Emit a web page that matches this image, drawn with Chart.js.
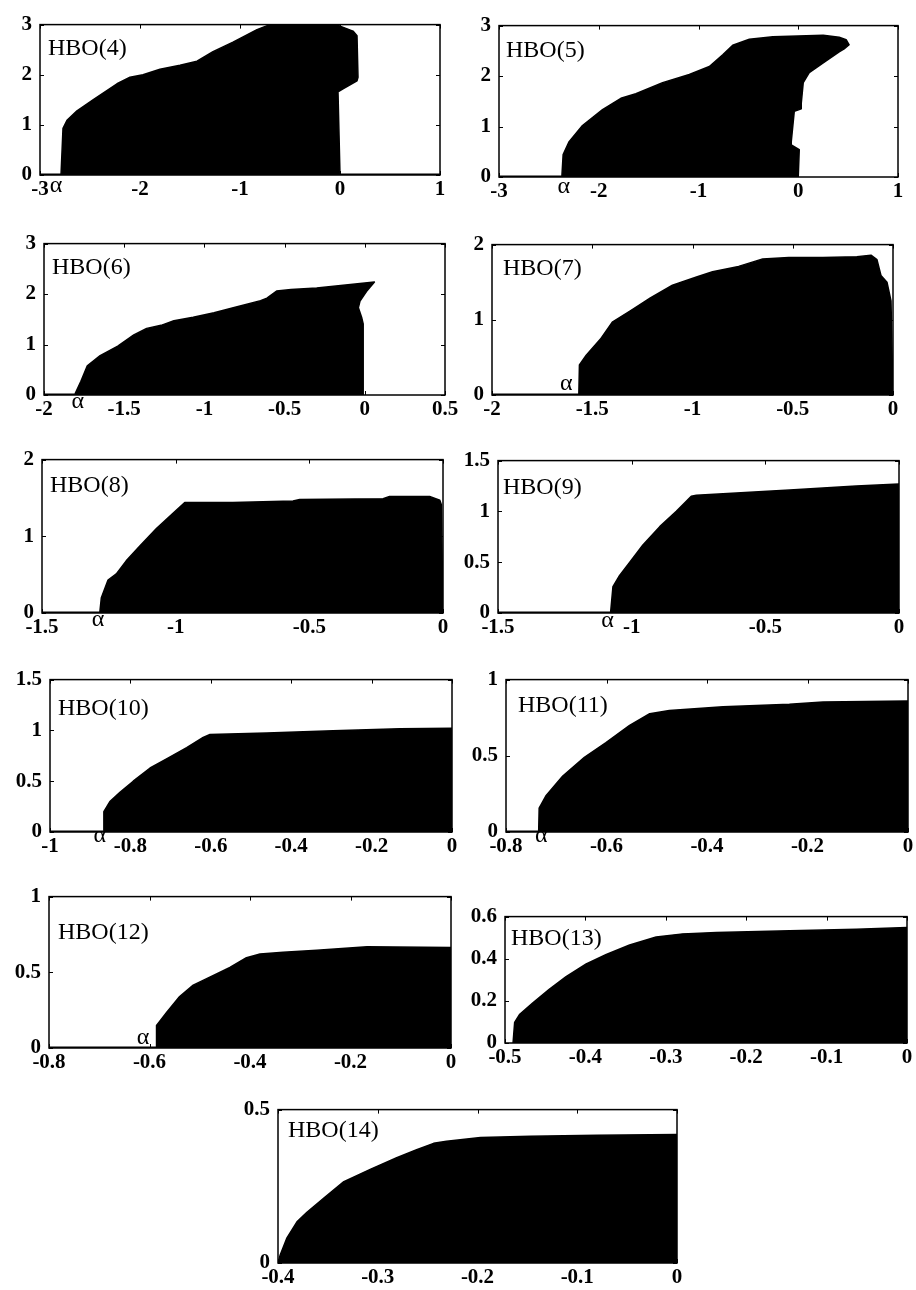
<!DOCTYPE html>
<html>
<head>
<meta charset="utf-8">
<script src="https://cdn.jsdelivr.net/npm/chart.js@4.4.0/dist/chart.umd.min.js"></script>
<style>
  html, body { margin: 0; padding: 0; background: #fff; overflow: hidden; width: 916px; height: 1290px; }
  canvas { position: absolute; }
</style>
</head>
<body>
<script>
// outlines of the black regions (x, y pairs in order round the shape)
const hbo4X = [-2.79, -2.77, -2.73, -2.63, -2.47, -2.23, -2.1, -1.97, -1.8, -1.6, -1.43, -1.27, -1.07, -0.83, -0.7, -0.03, 0.0, 0.13, 0.17, 0.18, 0.17, 0.03, -0.02, 0.0];
const hbo4Y = [0, 0.93, 1.09, 1.28, 1.5, 1.82, 1.95, 2.0, 2.11, 2.19, 2.27, 2.46, 2.65, 2.9, 3.0, 3.0, 2.97, 2.87, 2.78, 1.95, 1.88, 1.72, 1.66, 0];

const hbo5X = [-2.37, -2.357, -2.297, -2.163, -1.962, -1.778, -1.628, -1.36, -1.092, -0.891, -0.757, -0.657, -0.49, -0.255, 0.25, 0.41, 0.48, 0.51, 0.46, 0.41, 0.25, 0.11, 0.05, 0.03, 0.03, -0.04, -0.07, -0.07, 0.01, 0.0];
const hbo5Y = [0, 0.445, 0.70, 1.02, 1.335, 1.56, 1.65, 1.87, 2.03, 2.19, 2.42, 2.61, 2.73, 2.78, 2.81, 2.77, 2.72, 2.62, 2.54, 2.48, 2.26, 2.07, 1.87, 1.46, 1.35, 1.30, 0.70, 0.636, 0.54, 0];

const hbo6X = [-1.81, -1.77, -1.73, -1.65, -1.54, -1.44, -1.36, -1.27, -1.19, -1.07, -0.94, -0.82, -0.65, -0.61, -0.55, -0.46, -0.30, -0.15, 0.06, 0.01, -0.03, -0.04, -0.02, -0.01, -0.01];
const hbo6Y = [0, 0.27, 0.58, 0.78, 0.97, 1.19, 1.32, 1.38, 1.47, 1.54, 1.63, 1.73, 1.87, 1.92, 2.06, 2.09, 2.12, 2.17, 2.24, 2.05, 1.86, 1.73, 1.54, 1.41, 0];

const hbo7X = [-1.567, -1.564, -1.53, -1.46, -1.40, -1.31, -1.21, -1.10, -0.98, -0.90, -0.77, -0.65, -0.52, -0.35, -0.18, -0.11, -0.08, -0.06, -0.03, -0.01, 0];
const hbo7Y = [0, 0.40, 0.53, 0.74, 0.97, 1.12, 1.29, 1.46, 1.57, 1.64, 1.71, 1.81, 1.83, 1.83, 1.84, 1.86, 1.80, 1.59, 1.50, 1.25, 0];

const hbo8X = [-1.284, -1.278, -1.253, -1.222, -1.185, -1.135, -1.072, -1.01, -0.966, -0.786, -0.561, -0.536, -0.224, -0.20, -0.05, -0.012, -0.006, 0];
const hbo8Y = [0, 0.2, 0.43, 0.51, 0.68, 0.87, 1.10, 1.30, 1.44, 1.44, 1.46, 1.48, 1.49, 1.52, 1.52, 1.47, 1.41, 0];

const hbo9X = [-1.079, -1.07, -1.045, -1.007, -0.958, -0.895, -0.833, -0.777, -0.758, -0.409, -0.16, 0, 0];
const hbo9Y = [0, 0.26, 0.37, 0.50, 0.67, 0.85, 1.0, 1.15, 1.16, 1.21, 1.25, 1.27, 0];

const hbo10X = [-0.867, -0.866, -0.851, -0.826, -0.793, -0.751, -0.71, -0.66, -0.619, -0.602, -0.461, -0.296, -0.13, 0, 0];
const hbo10Y = [0, 0.20, 0.30, 0.39, 0.50, 0.63, 0.72, 0.83, 0.93, 0.96, 0.975, 0.997, 1.016, 1.022, 0];

const hbo11X = [-0.735, -0.734, -0.72, -0.687, -0.644, -0.601, -0.554, -0.514, -0.475, -0.368, -0.236, -0.169, 0, 0];
const hbo11Y = [0, 0.157, 0.24, 0.367, 0.49, 0.587, 0.70, 0.776, 0.797, 0.822, 0.839, 0.853, 0.86, 0];

const hbo12X = [-0.587, -0.586, -0.566, -0.54, -0.513, -0.48, -0.44, -0.407, -0.38, -0.334, -0.267, -0.167, 0, 0];
const hbo12Y = [0, 0.149, 0.234, 0.34, 0.415, 0.468, 0.532, 0.596, 0.621, 0.632, 0.645, 0.668, 0.664, 0];

const hbo13X = [-0.49, -0.488, -0.482, -0.466, -0.445, -0.424, -0.399, -0.374, -0.345, -0.312, -0.279, -0.237, -0.146, -0.063, 0, 0];
const hbo13Y = [0, 0.098, 0.135, 0.188, 0.255, 0.315, 0.375, 0.42, 0.465, 0.503, 0.518, 0.525, 0.533, 0.54, 0.548, 0];

const hbo14X = [-0.4, -0.398, -0.391, -0.381, -0.371, -0.354, -0.334, -0.307, -0.281, -0.261, -0.244, -0.231, -0.197, -0.147, -0.08, 0, 0];
const hbo14Y = [0, 0.024, 0.082, 0.134, 0.165, 0.212, 0.265, 0.306, 0.343, 0.369, 0.39, 0.397, 0.409, 0.413, 0.416, 0.419, 0];

// stretches of the thick zero line (start, end pairs)
const hbo4Zero = [[-3, -2.79], [0, 1]];
const hbo5Zero = [[-3, -2.37]];
const hbo6Zero = [[-2, -1.81]];
const hbo7Zero = [[-2, -1.567]];
const hbo8Zero = [[-1.5, -1.284]];
const hbo9Zero = [[-1.5, -1.079]];
const hbo10Zero = [[-1, -0.867]];
const hbo11Zero = [[-0.8, -0.735]];
const hbo12Zero = [[-0.8, -0.587]];

// where the alpha marks sit on the x axis
const alphaX = [-2.84, -2.35, -1.79, -1.63, -1.29, -1.09, -0.876, -0.73, -0.613, null, null];

// tick labels
const xTicksA = [-3, -2, -1, 0, 1];
const xTicksB = [-2, -1.5, -1, -0.5, 0, 0.5];
const xTicksC = [-2, -1.5, -1, -0.5, 0];
const xTicksD = [-1.5, -1, -0.5, 0];
const xTicksE = [-1, -0.8, -0.6, -0.4, -0.2, 0];
const xTicksF = [-0.8, -0.6, -0.4, -0.2, 0];
const xTicksG = [-0.5, -0.4, -0.3, -0.2, -0.1, 0];
const xTicksH = [-0.4, -0.3, -0.2, -0.1, 0];
const yTicks3 = [0, 1, 2, 3];
const yTicks2 = [0, 1, 2];
const yTicks15 = [0, 0.5, 1, 1.5];
const yTicks1 = [0, 0.5, 1];
const yTicks06 = [0, 0.2, 0.4, 0.6];
const yTicks05 = [0, 0.5];

// layout: plot box [left, top, right, bottom], label offset, alpha offset below axis
const panels = [
  { name: "HBO(4)", box: [40, 18, 440, 175], xs: hbo4X, ys: hbo4Y, xt: xTicksA, yt: yTicks3, zero: hbo4Zero, lab: [8, 30], aDy: 11 },
  { name: "HBO(5)", box: [499, 19, 898, 177], xs: hbo5X, ys: hbo5Y, xt: xTicksA, yt: yTicks3, zero: hbo5Zero, lab: [7, 31], aDy: 10 },
  { name: "HBO(6)", box: [44, 237, 445, 395], xs: hbo6X, ys: hbo6Y, xt: xTicksB, yt: yTicks3, zero: hbo6Zero, lab: [8, 30], aDy: 7 },
  { name: "HBO(7)", box: [492, 238, 893, 395], xs: hbo7X, ys: hbo7Y, xt: xTicksC, yt: yTicks2, zero: hbo7Zero, lab: [11, 30], aDy: -11 },
  { name: "HBO(8)", box: [42, 453, 443, 613], xs: hbo8X, ys: hbo8Y, xt: xTicksD, yt: yTicks2, zero: hbo8Zero, lab: [8, 32], aDy: 7 },
  { name: "HBO(9)", box: [498, 454, 899, 613], xs: hbo9X, ys: hbo9Y, xt: xTicksD, yt: yTicks15, zero: hbo9Zero, lab: [5, 33], aDy: 8 },
  { name: "HBO(10)", box: [50, 673, 452, 832], xs: hbo10X, ys: hbo10Y, xt: xTicksE, yt: yTicks15, zero: hbo10Zero, lab: [8, 35], aDy: 4 },
  { name: "HBO(11)", box: [506, 673, 908, 832], xs: hbo11X, ys: hbo11Y, xt: xTicksF, yt: yTicks1, zero: hbo11Zero, lab: [12, 32], aDy: 4 },
  { name: "HBO(12)", box: [49, 890, 451, 1048], xs: hbo12X, ys: hbo12Y, xt: xTicksF, yt: yTicks1, zero: hbo12Zero, lab: [9, 42], aDy: -10 },
  { name: "HBO(13)", box: [505, 910, 907, 1043], xs: hbo13X, ys: hbo13Y, xt: xTicksG, yt: yTicks06, zero: [], lab: [6, 28], aDy: 0 },
  { name: "HBO(14)", box: [278, 1103, 677, 1263], xs: hbo14X, ys: hbo14Y, xt: xTicksH, yt: yTicks05, zero: [], lab: [10, 27], aDy: 0 }
];

const serif = '"Liberation Serif", "Times New Roman", serif';
const padL = 50, padT = 14, padR = 16, padB = 30;

const makePanel = (p, idx) => {
  const canvas = document.createElement("canvas");
  const w = p.box[2] - p.box[0];
  const h = p.box[3] - p.box[1];
  canvas.width = w + padL + padR;
  canvas.height = h + padT + padB;
  canvas.style.left = (p.box[0] - padL) + "px";
  canvas.style.top = (p.box[1] - padT) + "px";
  document.body.appendChild(canvas);

  const datasets = [{
    data: p.xs.map((x, i) => ({ x: x, y: p.ys[i] })),
    fill: "shape",
    backgroundColor: "#000",
    borderColor: "#000",
    borderWidth: 1.5,
    borderJoinStyle: "round",
    pointRadius: 0,
    tension: 0
  }];
  p.zero.forEach((seg) => {
    datasets.push({
      data: [{ x: seg[0], y: 0 }, { x: seg[1], y: 0 }],
      fill: false,
      borderColor: "#000",
      borderWidth: 3,
      pointRadius: 0
    });
  });

  // box, inward ticks, panel name and alpha mark
  const decor = {
    id: "decor" + idx,
    afterDraw(chart) {
      const ctx = chart.ctx;
      const a = chart.chartArea;
      const xs = chart.scales.x, ys = chart.scales.y;
      ctx.save();
      ctx.strokeStyle = "#000";
      ctx.lineWidth = 1.5;
      ctx.strokeRect(a.left, a.top, a.right - a.left, a.bottom - a.top);
      ctx.lineWidth = 1;
      ctx.beginPath();
      p.xt.forEach((v) => {
        const px = Math.round(xs.getPixelForValue(v)) + 0.5;
        ctx.moveTo(px, a.bottom); ctx.lineTo(px, a.bottom - 4);
        ctx.moveTo(px, a.top); ctx.lineTo(px, a.top + 4);
      });
      p.yt.forEach((v) => {
        const py = Math.round(ys.getPixelForValue(v)) + 0.5;
        ctx.moveTo(a.left, py); ctx.lineTo(a.left + 4, py);
        ctx.moveTo(a.right, py); ctx.lineTo(a.right - 4, py);
      });
      ctx.stroke();

      ctx.fillStyle = "#000";
      ctx.font = "24px " + serif;
      ctx.textAlign = "left";
      ctx.textBaseline = "alphabetic";
      ctx.fillText(p.name, a.left + p.lab[0], a.top + p.lab[1]);

      if (alphaX[idx] !== null) {
        ctx.font = "24px " + serif;
        ctx.textAlign = "center";
        ctx.textBaseline = "middle";
        ctx.fillText("\u03b1", xs.getPixelForValue(alphaX[idx]), a.bottom + p.aDy);
      }
      ctx.restore();
    }
  };

  new Chart(canvas, {
    type: "line",
    data: { datasets: datasets },
    options: {
      responsive: false,
      animation: false,
      events: [],
      layout: { padding: { top: padT, right: padR, left: 0, bottom: 0 } },
      plugins: { legend: { display: false }, tooltip: { enabled: false } },
      scales: {
        x: {
          type: "linear",
          min: p.xt[0],
          max: p.xt[p.xt.length - 1],
          afterBuildTicks: (s) => { s.ticks = p.xt.map((v) => ({ value: v })); },
          afterFit: (s) => { s.height = padB; },
          grid: { display: false, drawTicks: false },
          border: { display: false },
          ticks: {
            color: "#000",
            padding: 2,
            maxRotation: 0,
            autoSkip: false,
            font: { family: serif, size: 21, weight: "bold" },
            callback: (v) => String(v)
          }
        },
        y: {
          type: "linear",
          min: p.yt[0],
          max: p.yt[p.yt.length - 1],
          afterBuildTicks: (s) => { s.ticks = p.yt.map((v) => ({ value: v })); },
          afterFit: (s) => { s.width = padL; },
          grid: { display: false, drawTicks: false },
          border: { display: false },
          ticks: {
            color: "#000",
            padding: 8,
            autoSkip: false,
            font: { family: serif, size: 21, weight: "bold" },
            callback: (v) => String(v)
          }
        }
      }
    },
    plugins: [decor]
  });
};

panels.forEach(makePanel);
</script>
</body>
</html>
